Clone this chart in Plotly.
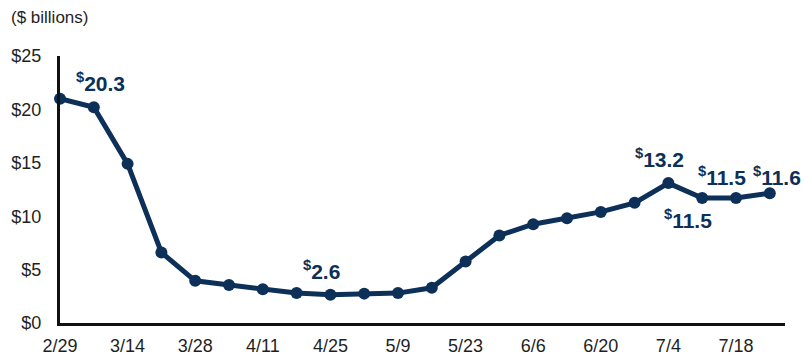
import plotly.graph_objects as go

weeks = ["2/29", "3/7", "3/14", "3/21", "3/28", "4/4", "4/11", "4/18", "4/25", "5/2", "5/9",
         "5/16", "5/23", "5/30", "6/6", "6/13", "6/20", "6/27", "7/4", "7/11", "7/18", "7/25"]
spending = [21.0, 20.2, 14.9, 6.6, 3.95, 3.55, 3.15, 2.8, 2.65, 2.75, 2.8,
            3.3, 5.75, 8.2, 9.25, 9.8, 10.4, 11.25, 13.1, 11.7, 11.7, 12.15]
tick_labels = ["2/29", "3/14", "3/28", "4/11", "4/25", "5/9", "5/23", "6/6", "6/20", "7/4", "7/18"]
y_ticks = [0, 5, 10, 15, 20, 25]
y_tick_text = ["$0", "$5", "$10", "$15", "$20", "$25"]

# labelled points: (index, text, xshift, yshift)
labels = [
    (1, "20.3", 7, 25),
    (8, "2.6", -9, 25),
    (18, "13.2", -9, 25),
    (19, "11.5", -14, -21),
    (20, "11.5", -14, 22),
    (21, "11.6", 7, 17),
]

NAVY = "#0c3058"
INK = "#1f1f1f"
FONT = "Liberation Sans, Arial, sans-serif"

fig = go.Figure()
fig.add_trace(go.Scatter(
    x=list(range(len(weeks))), y=spending, mode="lines+markers",
    line=dict(color=NAVY, width=5),
    marker=dict(color=NAVY, size=12),
    cliponaxis=False, hoverinfo="skip", showlegend=False,
))

for i, txt, dx, dy in labels:
    fig.add_annotation(
        x=i, y=spending[i], xref="x", yref="y",
        text="<b><sup>$</sup>" + txt + "</b>", showarrow=False,
        xshift=dx, yshift=dy,
        font=dict(family=FONT, size=21, color=NAVY),
    )

fig.add_annotation(
    x=0, y=1, xref="paper", yref="paper", xanchor="left", yanchor="middle",
    text="($ billions)", showarrow=False, yshift=39, xshift=-51,
    font=dict(family=FONT, size=17, color=INK),
)

fig.update_layout(
    width=804, height=356,
    margin=dict(l=60, r=19, t=56, b=33),
    paper_bgcolor="white", plot_bgcolor="white",
    font=dict(family=FONT, size=17, color=INK),
    xaxis=dict(
        range=[0, 21.45], tickmode="array",
        tickvals=[weeks.index(t) for t in tick_labels], ticktext=tick_labels,
        showgrid=False, zeroline=False, showline=True, linecolor="#111111", linewidth=3,
        ticks="", ticklabelstandoff=4, automargin=False,
        tickfont=dict(family=FONT, size=18, color=INK),
    ),
    yaxis=dict(
        range=[0, 25], tickmode="array", tickvals=y_ticks, ticktext=y_tick_text,
        showgrid=False, zeroline=False, showline=True, linecolor="#111111", linewidth=3,
        ticks="", ticklabelstandoff=12, automargin=False,
        tickfont=dict(family=FONT, size=18, color=INK),
    ),
)

fig.write_html("out.html")
